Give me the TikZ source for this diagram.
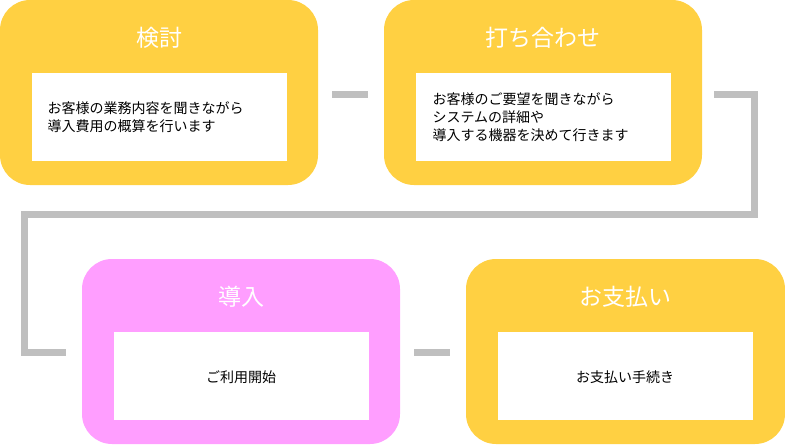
\documentclass[tikz,border=0pt]{standalone}
\usepackage{fontspec}
\setmainfont{Noto Sans CJK JP}
\definecolor{yel}{HTML}{FFD042}
\definecolor{pnk}{HTML}{FF9EFF}
\definecolor{gry}{HTML}{BFBFBF}
\begin{document}
\begin{tikzpicture}[x=1pt,y=-1pt,
  card/.style={rounded corners=30pt,inner sep=0pt},
  ttl/.style={text=white,font=\fontsize{23}{27}\selectfont},
  body/.style={font=\fontsize{14}{18}\selectfont,align=left},
  conn/.style={draw=gry,line width=7pt}]
\useasboundingbox (0,0) rectangle (785,445);
\fill[yel,card] (0,0) rectangle (318,185);
\fill[white] (32,73) rectangle (287,161);
\node[ttl] (t1) at (159,38) {検討};
\node[body,anchor=west] (b1) at (44,117) {お客様の業務内容を聞きながら\\導入費用の概算を行います};
\fill[yel,card] (384,0) rectangle (702,185);
\fill[white] (416,73) rectangle (671,161);
\node[ttl] (t2) at (543,38) {打ち合わせ};
\node[body,anchor=west] (b2) at (429,117) {お客様のご要望を聞きながら\\システムの詳細や\\導入する機器を決めて行きます};
\fill[pnk,card] (82,259) rectangle (400,444);
\fill[white] (114,332) rectangle (369,420);
\node[ttl] (t3) at (241,297) {導入};
\node[body] (b3) at (241,377) {ご利用開始};
\fill[yel,card] (466,259) rectangle (785,444);
\fill[white] (498,332) rectangle (753,420);
\node[ttl] (t4) at (625,297) {お支払い};
\node[body] (b4) at (625,377) {お支払い手続き};
\coordinate (a1) at (332,94); \coordinate (a2) at (368,94);
\coordinate (c1) at (714,94); \coordinate (c2) at (754,94);
\coordinate (c3) at (754,214); \coordinate (c4) at (24,214);
\coordinate (c5) at (24,352); \coordinate (c6) at (66,352);
\coordinate (d1) at (414,352); \coordinate (d2) at (450,352);
\draw[conn] (a1) -- (a2);
\draw[conn] (c1) -- (c2) -- (c3) -- (c4) -- (c5) -- (c6);
\draw[conn] (d1) -- (d2);
\end{tikzpicture}
\end{document}
